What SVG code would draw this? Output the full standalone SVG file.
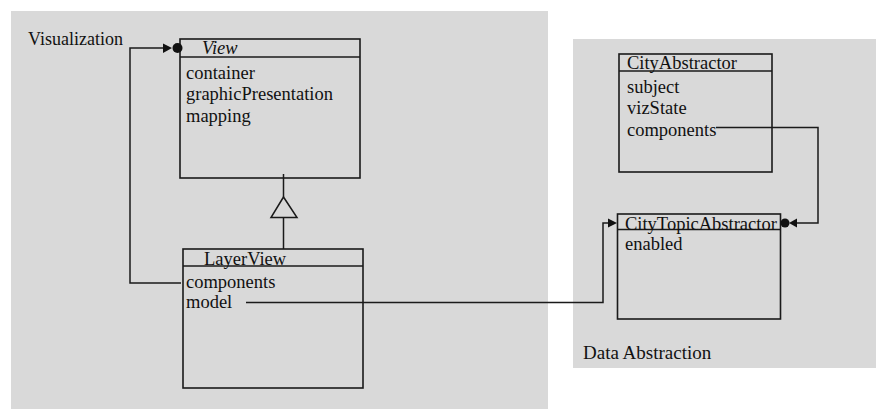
<svg xmlns="http://www.w3.org/2000/svg" width="876" height="409" viewBox="0 0 876 409">
<style>
.panel{fill:#d9d9d9;stroke:none}
.box{fill:none;stroke:#1a1a1a;stroke-width:1.6}
.conn{fill:none;stroke:#1a1a1a;stroke-width:1.5}
.head{fill:#111;stroke:none}
text{font-family:"Liberation Serif","Times New Roman",serif;font-size:18.5px;fill:#111}
.it{font-style:italic}
</style>
<rect class="panel" x="11" y="11" width="537" height="398"/>
<rect class="panel" x="573" y="39" width="303" height="329"/>
<text x="28" y="45" style="font-size:18px">Visualization</text>
<text x="583" y="359" style="font-size:19px">Data Abstraction</text>
<g id="View">
<rect class="box" x="180" y="39" width="180" height="139"/>
<line class="box" x1="180" y1="57" x2="360" y2="57"/>
<text class="it" x="202" y="54">View</text>
<text x="186" y="79">container</text>
<text x="186" y="100">graphicPresentation</text>
<text x="186" y="122">mapping</text>
</g>
<g id="LayerView">
<rect class="box" x="183" y="249" width="180" height="139"/>
<line class="box" x1="183" y1="266" x2="363" y2="266"/>
<text x="204" y="265">LayerView</text>
<text x="186" y="288">components</text>
<text x="186" y="308">model</text>
</g>
<g id="CityAbstractor">
<rect class="box" x="619" y="54" width="153" height="118"/>
<line class="box" x1="619" y1="71" x2="772" y2="71"/>
<text x="627" y="69">CityAbstractor</text>
<text x="627" y="93">subject</text>
<text x="627" y="114">vizState</text>
<text x="627" y="136">components</text>
</g>
<g id="CityTopicAbstractor">
<rect class="box" x="617.5" y="214" width="163" height="105"/>
<line class="box" x1="617.5" y1="229.5" x2="780.5" y2="229.5"/>
<text x="625" y="230">CityTopicAbstractor</text>
<text x="625" y="250">enabled</text>
</g>
<g id="connectors">
<polyline class="conn" points="181,283 130,283 130,48 164,48"/>
<polygon class="head" points="163,43.5 172,48 163,53"/>
<circle class="head" cx="177.5" cy="48" r="5"/>
<line class="conn" x1="283.5" y1="174" x2="283.5" y2="197"/>
<polygon class="conn" points="283.5,197 271,217.5 297,217.5"/>
<line class="conn" x1="283.5" y1="217.5" x2="283.5" y2="249"/>
<polyline class="conn" points="246,302.5 603,302.5 603,223 609,223"/>
<polygon class="head" points="608,218.5 617,223 608,227.5"/>
<polyline class="conn" points="716,127.5 818,127.5 818,223 796,223"/>
<polygon class="head" points="797,218.5 789,223 797,227.5"/>
<circle class="head" cx="785" cy="223" r="4.5"/>
</g>
</svg>
